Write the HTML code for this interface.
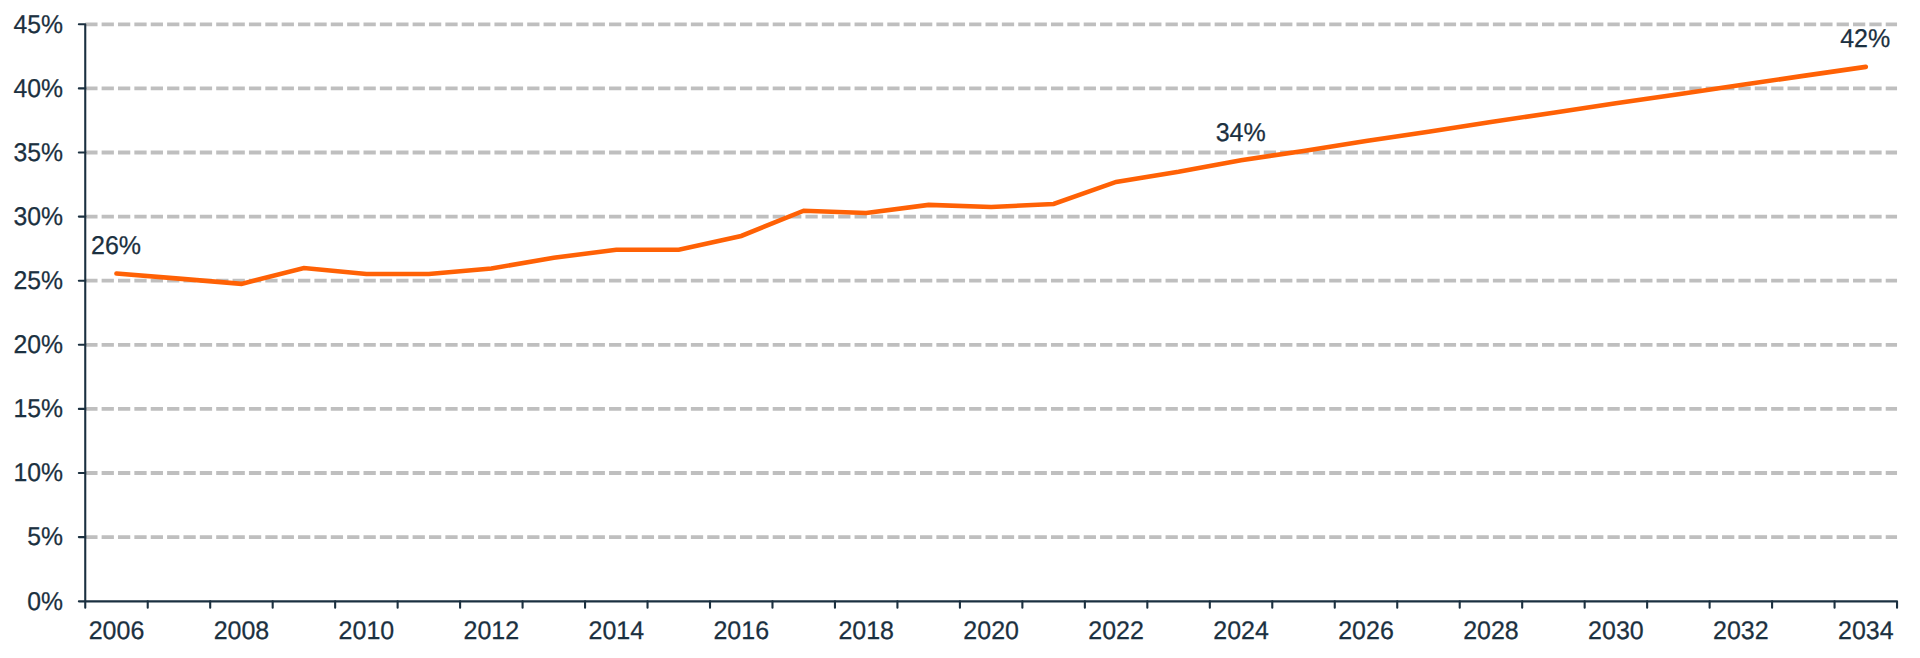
<!DOCTYPE html>
<html lang="en"><head><meta charset="utf-8"><title>Chart</title>
<style>
html,body{margin:0;padding:0;background:#fff;}
body{width:1920px;height:658px;overflow:hidden;}
svg{display:block;}
text{font-family:"Liberation Sans",sans-serif;font-size:25px;fill:#1b3040;stroke:#1b3040;stroke-width:0.25px;text-rendering:geometricPrecision;}
</style></head><body>
<svg width="1920" height="658" viewBox="0 0 1920 658">
<rect width="1920" height="658" fill="#ffffff"/>
<g stroke="#bfbfbf" stroke-width="3.8" stroke-dasharray="12.276 4.092" fill="none">
<line x1="85.25" y1="537.10" x2="1897.04" y2="537.10"/>
<line x1="85.25" y1="473.00" x2="1897.04" y2="473.00"/>
<line x1="85.25" y1="408.90" x2="1897.04" y2="408.90"/>
<line x1="85.25" y1="344.80" x2="1897.04" y2="344.80"/>
<line x1="85.25" y1="280.70" x2="1897.04" y2="280.70"/>
<line x1="85.25" y1="216.60" x2="1897.04" y2="216.60"/>
<line x1="85.25" y1="152.50" x2="1897.04" y2="152.50"/>
<line x1="85.25" y1="88.40" x2="1897.04" y2="88.40"/>
<line x1="85.25" y1="24.30" x2="1897.04" y2="24.30"/>
</g>
<g stroke="#1b3040" stroke-width="2.1" fill="none" stroke-linecap="round" stroke-linejoin="round">
<path d="M78.85 24.30H85.25V607.75M78.85 601.35H1897.04V607.75"/>
<path d="M78.85 537.10H85.25M78.85 473.00H85.25M78.85 408.90H85.25M78.85 344.80H85.25M78.85 280.70H85.25M78.85 216.60H85.25M78.85 152.50H85.25M78.85 88.40H85.25M147.73 601.35V607.75M210.20 601.35V607.75M272.68 601.35V607.75M335.15 601.35V607.75M397.63 601.35V607.75M460.10 601.35V607.75M522.58 601.35V607.75M585.05 601.35V607.75M647.53 601.35V607.75M710.01 601.35V607.75M772.48 601.35V607.75M834.96 601.35V607.75M897.43 601.35V607.75M959.91 601.35V607.75M1022.38 601.35V607.75M1084.86 601.35V607.75M1147.33 601.35V607.75M1209.81 601.35V607.75M1272.28 601.35V607.75M1334.76 601.35V607.75M1397.24 601.35V607.75M1459.71 601.35V607.75M1522.19 601.35V607.75M1584.66 601.35V607.75M1647.14 601.35V607.75M1709.61 601.35V607.75M1772.09 601.35V607.75M1834.56 601.35V607.75"/>
</g>
<polyline points="116.49,273.55 178.96,278.60 241.44,283.90 303.91,268.00 366.39,274.00 428.87,274.00 491.34,268.50 553.82,257.70 616.29,249.70 678.77,249.70 741.24,236.00 803.72,210.70 866.19,213.00 928.67,204.90 991.14,207.00 1053.62,204.00 1116.10,181.90 1178.57,171.80 1241.05,160.20 1303.52,150.90 1366.00,141.00 1428.47,131.80 1490.95,122.00 1553.42,112.70 1615.90,103.30 1678.38,94.20 1740.85,85.00 1803.33,75.90 1865.80,66.90" fill="none" stroke="#ff6105" stroke-width="4.6" stroke-linejoin="miter" stroke-miterlimit="10" stroke-linecap="round"/>
<g text-anchor="end">
<text transform="translate(63.10 609.50) scale(1 1.03)" textLength="35.77" lengthAdjust="spacingAndGlyphs">0%</text>
<text transform="translate(63.10 545.40) scale(1 1.03)" textLength="35.77" lengthAdjust="spacingAndGlyphs">5%</text>
<text transform="translate(63.10 481.30) scale(1 1.03)" textLength="49.54" lengthAdjust="spacingAndGlyphs">10%</text>
<text transform="translate(63.10 417.20) scale(1 1.03)" textLength="49.54" lengthAdjust="spacingAndGlyphs">15%</text>
<text transform="translate(63.10 353.10) scale(1 1.03)" textLength="49.54" lengthAdjust="spacingAndGlyphs">20%</text>
<text transform="translate(63.10 289.00) scale(1 1.03)" textLength="49.54" lengthAdjust="spacingAndGlyphs">25%</text>
<text transform="translate(63.10 224.90) scale(1 1.03)" textLength="49.54" lengthAdjust="spacingAndGlyphs">30%</text>
<text transform="translate(63.10 160.80) scale(1 1.03)" textLength="49.54" lengthAdjust="spacingAndGlyphs">35%</text>
<text transform="translate(63.10 96.70) scale(1 1.03)" textLength="49.54" lengthAdjust="spacingAndGlyphs">40%</text>
<text transform="translate(63.10 32.60) scale(1 1.03)" textLength="49.54" lengthAdjust="spacingAndGlyphs">45%</text>
</g>
<g text-anchor="middle">
<text transform="translate(116.49 639.15) scale(1 1.02)">2006</text>
<text transform="translate(241.44 639.15) scale(1 1.02)">2008</text>
<text transform="translate(366.39 639.15) scale(1 1.02)">2010</text>
<text transform="translate(491.34 639.15) scale(1 1.02)">2012</text>
<text transform="translate(616.29 639.15) scale(1 1.02)">2014</text>
<text transform="translate(741.24 639.15) scale(1 1.02)">2016</text>
<text transform="translate(866.19 639.15) scale(1 1.02)">2018</text>
<text transform="translate(991.14 639.15) scale(1 1.02)">2020</text>
<text transform="translate(1116.10 639.15) scale(1 1.02)">2022</text>
<text transform="translate(1241.05 639.15) scale(1 1.02)">2024</text>
<text transform="translate(1366.00 639.15) scale(1 1.02)">2026</text>
<text transform="translate(1490.95 639.15) scale(1 1.02)">2028</text>
<text transform="translate(1615.90 639.15) scale(1 1.02)">2030</text>
<text transform="translate(1740.85 639.15) scale(1 1.02)">2032</text>
<text transform="translate(1865.80 639.15) scale(1 1.02)">2034</text>
<text transform="translate(116.00 253.75) scale(1 1.03)">26%</text>
<text transform="translate(1240.70 140.55) scale(1 1.03)">34%</text>
<text transform="translate(1865.20 46.60) scale(1 1.03)">42%</text>
</g>
</svg>
</body></html>
